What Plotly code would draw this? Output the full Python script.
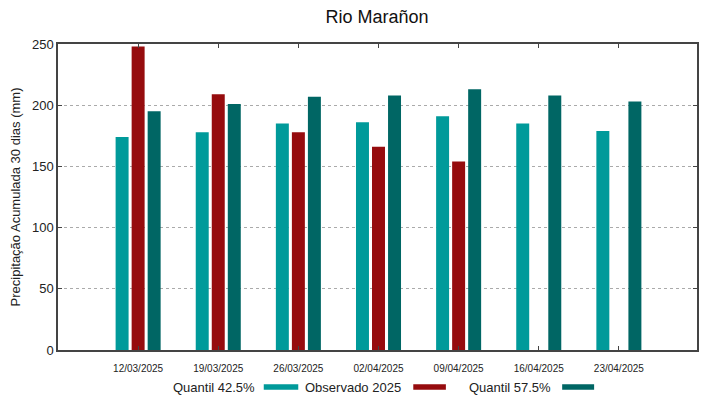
import plotly.graph_objects as go

dates = ["12/03/2025", "19/03/2025", "26/03/2025", "02/04/2025", "09/04/2025", "16/04/2025", "23/04/2025"]
q425 = [174, 178, 185, 186, 191, 185, 179]
obs2025 = [248, 209, 178, 166, 154, None, None]
q575 = [195, 201, 207, 208, 213, 208, 203]
y_ticks = [0, 50, 100, 150, 200, 250]

names = ["Quantil 42.5%", "Observado 2025", "Quantil 57.5%"]
colors = ["#009a9a", "#960c0e", "#006664"]
series = [q425, obs2025, q575]

fig = go.Figure()
for n, c, s in zip(names, colors, series):
    fig.add_trace(go.Bar(x=dates, y=s, name=n, marker_color=c,
                         marker_line_width=0, showlegend=False))

FONT = "Liberation Sans, Arial, sans-serif"
W, H = 711, 391  # page body has an 8px margin

fig.update_layout(
    width=W, height=H,
    margin=dict(l=50, r=22, t=36, b=49, autoexpand=False),
    paper_bgcolor="white", plot_bgcolor="white",
    barmode="group", bargap=0.4, bargroupgap=0.19,
    font=dict(family=FONT, color="#222"),
    title=dict(text="Rio Marañon", x=369 / W, xanchor="center",
               yref="container", y=1, yanchor="top", pad=dict(t=2),
               font=dict(size=18, color="#111", family=FONT)),
)
fig.update_xaxes(
    type="category", range=[-1, 6.975], automargin=False,
    showline=True, linecolor="#444", linewidth=1.5, mirror="ticks",
    ticks="inside", ticklen=4, tickcolor="#444",
    tickfont=dict(size=10, color="#222"), ticklabelstandoff=8,
    showgrid=False,
)
fig.update_yaxes(
    range=[0, 250], tickvals=y_ticks, automargin=False,
    showline=True, linecolor="#444", linewidth=1.5, mirror="ticks",
    ticks="inside", ticklen=4, tickcolor="#444",
    tickfont=dict(size=13, color="#222"),
    showgrid=True, gridcolor="#aaaaaa", griddash="dot", gridwidth=1,
    zeroline=False,
    title=dict(text="Precipitação Acumulada 30 dias (mm)", font=dict(size=13, color="#222"),
               standoff=8),
)

# custom legend: text followed by swatch (gnuplot style)
leg_y = -0.121
text_ends = [0.311, 0.540, 0.775]
sw = [(0.322, 0.376), (0.556, 0.607), (0.789, 0.839)]
for n, c, te, (x0, x1) in zip(names, colors, text_ends, sw):
    fig.add_annotation(x=te, y=leg_y, xref="paper", yref="paper", text=n,
                       showarrow=False, xanchor="right", yanchor="middle",
                       font=dict(size=13, color="#222", family=FONT))
    fig.add_shape(type="rect", xref="paper", yref="paper", x0=x0, x1=x1,
                  y0=leg_y - 0.009, y1=leg_y + 0.009, fillcolor=c, line_width=0)

fig.write_html("out.html")
